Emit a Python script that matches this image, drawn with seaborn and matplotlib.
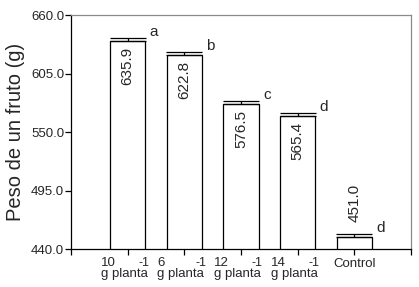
import matplotlib
matplotlib.use("Agg")
import matplotlib.pyplot as plt
import seaborn as sns
import pandas as pd
import numpy as np

categories = ["10", "6", "12", "14", "Control"]
values = [635.9, 622.8, 576.5, 565.4, 451.0]
errors = [2.5, 2.8, 3.0, 2.2, 3.0]
letters = ["a", "b", "c", "d", "d"]
value_labels = ["635.9", "622.8", "576.5", "565.4", "451.0"]
yticks = [440.0, 495.0, 550.0, 605.0, 660.0]

sns.set_theme(style="ticks")
plt.rcParams['font.family'] = ['Liberation Sans', 'DejaVu Sans']

df = pd.DataFrame({"trat": categories, "peso": values})

fig = plt.figure(figsize=(4.19, 2.87), dpi=100)
ax = fig.add_axes([71/419, 1-249/287, 340/419, 234/287])

sns.barplot(data=df, x="trat", y="peso", order=categories, color="white",
            edgecolor="black", linewidth=0.9, width=0.62, ax=ax, errorbar=None)
xs = np.arange(len(categories))
ax.errorbar(xs, values, yerr=[np.zeros(len(values)), errors], fmt="none",
            ecolor="black", elinewidth=0.9, capsize=12.8, capthick=0.9)

ax.set_ylim(440, 660)
ax.set_xlim(-1, 5)
ax.set_yticks(yticks)
ax.set_yticklabels([f"{v:.1f}" for v in yticks], fontsize=9.5)
ax.set_xticks(np.arange(-1, 6))
ax.set_xticklabels([""] * 7)
ax.tick_params(axis="both", direction="out", length=4, width=0.9, color="black", pad=1)
ax.set_xlabel("")
ax.set_ylabel("Peso de un fruto (g)", fontsize=14.5)
ax.yaxis.set_label_coords(-0.135, 0.5)

for s in ["left", "bottom"]:
    ax.spines[s].set_color("black")
    ax.spines[s].set_linewidth(0.9)
for s in ["top", "right"]:
    ax.spines[s].set_color("#8a8a8a")
    ax.spines[s].set_linewidth(0.9)
    ax.spines[s].set_visible(True)

px = 0.72  # points per pixel
for i, (v, e, lt, vl) in enumerate(zip(values, errors, letters, value_labels)):
    ax.annotate(lt, xy=(i, v + e), xytext=(22*px, 6*px), textcoords="offset points",
                ha="left", va="center", fontsize=11)
    if v - 440 > 40:
        ax.annotate(vl, xy=(i, v), xytext=(0, -6*px), textcoords="offset points",
                    ha="center", va="top", rotation=90, fontsize=11)
    else:
        ax.annotate(vl, xy=(i, v + e), xytext=(0, 12*px), textcoords="offset points",
                    ha="center", va="bottom", rotation=90, fontsize=11)

# x tick labels
for i, c in enumerate(categories):
    if c == "Control":
        ax.annotate(c, xy=(i, 0), xycoords=("data", "axes fraction"),
                    xytext=(0, -15*px), textcoords="offset points",
                    ha="center", va="center", fontsize=9.5)
    else:
        ax.annotate(c, xy=(i, 0), xycoords=("data", "axes fraction"),
                    xytext=(-27*px, -13.5*px), textcoords="offset points",
                    ha="left", va="center", fontsize=9.5)
        ax.annotate("g planta", xy=(i, 0), xycoords=("data", "axes fraction"),
                    xytext=(-27*px, -25*px), textcoords="offset points",
                    ha="left", va="center", fontsize=9.5)
        ax.annotate("-1", xy=(i, 0), xycoords=("data", "axes fraction"),
                    xytext=(11*px, -14.5*px), textcoords="offset points",
                    ha="left", va="center", fontsize=9)

fig.savefig("out.png", dpi=100)
